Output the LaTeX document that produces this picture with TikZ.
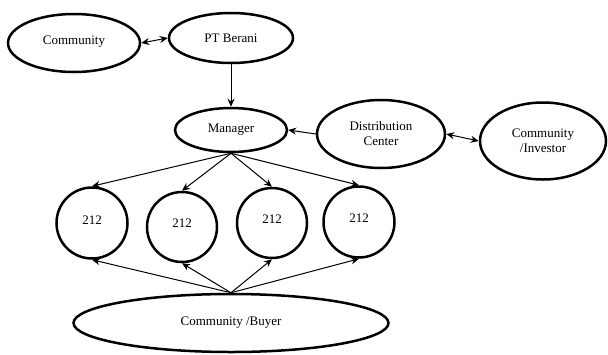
\documentclass[tikz,border=0pt]{standalone}
\usepackage{fontspec}
\setmainfont{Liberation Serif}
\usetikzlibrary{shapes.geometric,arrows.meta}
\begin{document}
\begin{tikzpicture}[x=1pt,y=-1pt,
  ell/.style={draw,line width=2.5pt,ellipse,inner sep=0pt,font=\fontsize{13}{15}\selectfont,align=center},
  crc/.style={draw,line width=2.5pt,circle,inner sep=0pt,minimum size=70pt,font=\fontsize{13}{15}\selectfont},
  conn/.style={line width=1pt,-{Stealth[length=8pt,width=7pt]}},
  dconn/.style={line width=1pt,{Stealth[length=8pt,width=7pt]}-{Stealth[length=8pt,width=7pt]}}]
\useasboundingbox (0,0) rectangle (608,354);
\node[ell,minimum width=132pt,minimum height=58pt] (com) at (74,43) {\raisebox{6pt}{Community}};
\node[ell,minimum width=124pt,minimum height=50pt] (pt) at (231,38) {PT Berani};
\node[ell,minimum width=112pt,minimum height=44pt] (mgr) at (231,130) {Manager};
\node[ell,minimum width=128pt,minimum height=68pt] (dc) at (381,134) {Distribution\\Center};
\node[ell,minimum width=126pt,minimum height=77pt] (ci) at (543,141) {Community\\/Investor};
\node[crc,minimum size=71pt] (c1) at (92,223) {\raisebox{6pt}{212}};
\node[crc] (c2) at (182,227) {\raisebox{8pt}{212}};
\node[crc] (c3) at (272,223) {\raisebox{7pt}{212}};
\node[crc,minimum size=71pt] (c4) at (359,222) {\raisebox{7pt}{212}};
\node[ell,minimum width=315pt,minimum height=58pt] (buy) at (231,323) {Community /Buyer};
\draw[dconn] (com.east) -- (pt.west);
\draw[conn] (pt.south) -- (mgr.north);
\draw[conn] (dc.west) -- (mgr.east);
\draw[dconn] (dc.east) -- (ci.west);
\foreach \c in {c1,c2,c3,c4}{
  \draw[conn] (mgr.south) -- (\c.north);
  \draw[conn] (buy.north) -- (\c.south);
}
\end{tikzpicture}
\end{document}
